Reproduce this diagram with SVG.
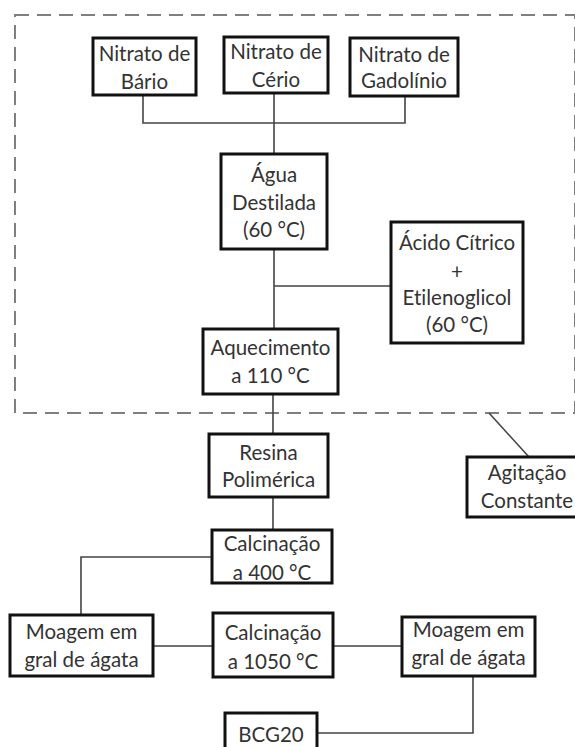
<svg xmlns="http://www.w3.org/2000/svg" width="575" height="747" viewBox="0 0 575 747">
<style>
.box{fill:#fff;stroke:#111;stroke-width:3}
.c{fill:none;stroke:#444;stroke-width:1.6}
.dash{fill:none;stroke:#7f7f7f;stroke-width:2;stroke-dasharray:14 8}
text{font-family:Lato,"Open Sans",sans-serif;font-size:20.5px;fill:#333;text-anchor:middle;font-variant-ligatures:none}
</style>
<rect width="575" height="747" fill="#fff"/>
<rect id="agitacao-regiao" class="dash" x="15" y="15" width="560" height="398"/>
<g id="connectors">
<path class="c" d="M143 95V123H405V96M274 93V154"/>
<path class="c" d="M274 249V329M274 286H391"/>
<path class="c" d="M273 394V434M273 497V530"/>
<path class="c" d="M212 557H81V615"/>
<path class="c" d="M153 646H213M333 646H402"/>
<path class="c" d="M473 676V733H317"/>
<path class="c" d="M489 413L529 457"/>
</g>
<g id="n-bario"><rect class="box" x="93" y="38" width="103" height="57"/><text x="144.5" y="61">Nitrato de</text><text x="144.5" y="89">Bário</text></g>
<g id="n-cerio"><rect class="box" x="224" y="37" width="104" height="56"/><text x="276" y="59">Nitrato de</text><text x="276" y="87">Cério</text></g>
<g id="n-gadolinio"><rect class="box" x="350" y="38" width="108" height="58"/><text x="404" y="62">Nitrato de</text><text x="404" y="88">Gadolínio</text></g>
<g id="agua"><rect class="box" x="221" y="154" width="106" height="95"/><text x="274" y="182">Água</text><text x="274" y="210">Destilada</text><text x="274" y="237">(60 °C)</text></g>
<g id="acido"><rect class="box" x="391" y="222" width="132" height="121"/><text x="457" y="250">Ácido Cítrico</text><text x="457" y="279">+</text><text x="457" y="305">Etilenoglicol</text><text x="457" y="332">(60 °C)</text></g>
<g id="aquecimento"><rect class="box" x="203" y="329" width="135" height="65"/><text x="270.5" y="355">Aquecimento</text><text x="270.5" y="383">a 110 °C</text></g>
<g id="resina"><rect class="box" x="209" y="434" width="119" height="63"/><text x="268.5" y="460">Resina</text><text x="268.5" y="487">Polimérica</text></g>
<g id="agitacao"><rect class="box" x="467" y="457" width="120" height="60"/><text x="527" y="480">Agitação</text><text x="527" y="508">Constante</text></g>
<g id="calc400"><rect class="box" x="212" y="530" width="120" height="53"/><text x="272" y="551">Calcinação</text><text x="272" y="580">a 400 °C</text></g>
<g id="moagem1"><rect class="box" x="10" y="615" width="143" height="61"/><text x="81.5" y="639">Moagem em</text><text x="81.5" y="667">gral de ágata</text></g>
<g id="calc1050"><rect class="box" x="213" y="613" width="120" height="64"/><text x="273" y="640">Calcinação</text><text x="273" y="669">a 1050 °C</text></g>
<g id="moagem2"><rect class="box" x="402" y="617" width="133" height="59"/><text x="468.5" y="637">Moagem em</text><text x="468.5" y="665">gral de ágata</text></g>
<g id="bcg20"><rect class="box" x="225" y="713" width="92" height="50"/><text x="271" y="742">BCG20</text></g>
</svg>
